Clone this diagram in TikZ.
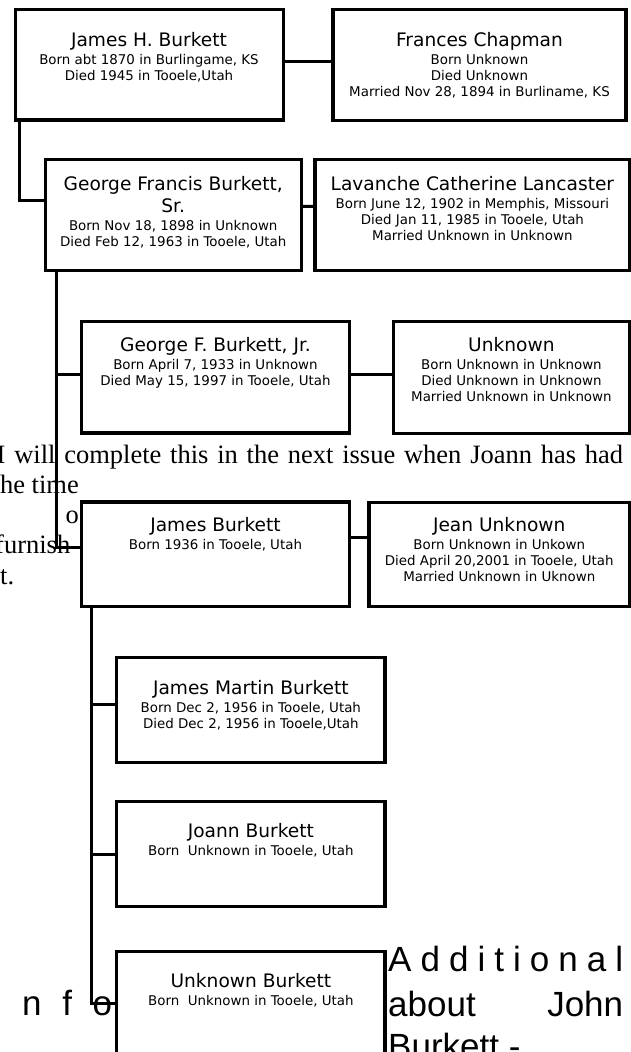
\documentclass[tikz,border=0pt]{standalone}
\usepackage{fontspec}
\setmainfont{Liberation Serif}
\newfontfamily\boxfont{DejaVu Sans}
\newfontfamily\arialf{Liberation Sans}
\newcommand\namef{\boxfont\fontsize{18.6}{16}\selectfont}
\newcommand\detf{\boxfont\fontsize{13.4}{16}\selectfont}
\newcommand\ptext[2]{\vtop{\baselineskip=16pt\lineskip=0pt\lineskiplimit=-30pt\halign{\hfil\detf##\hfil\cr\namef #1\cr\noalign{\vskip2pt}#2\crcr}}}
\begin{document}
\begin{tikzpicture}[x=1pt,y=-1pt,
  box/.style={draw=black,line width=3.1pt,fill=white,inner sep=0pt,outer sep=0pt},
  conn/.style={draw=black,line width=3pt},
  ptxt/.style={anchor=base,inner sep=0pt,outer sep=0pt},
  body/.style={anchor=base west,inner sep=0pt,font=\fontsize{26.5}{30}\selectfont},
  big/.style={anchor=base west,inner sep=0pt,font=\arialf\fontsize{35}{44}\selectfont}]
\useasboundingbox (0,0) rectangle (631,1052);
\clip (0,0) rectangle (631,1052);
% background text
\node[body] (p1) at (-3.5,463) {\makebox[626.5pt][s]{I will complete this in the next issue when Joann has had}};
\node[body] (p2) at (-7.5,493) {the time};
\node[body] (p3) at (65.5,523) {o};
\node[body] (p4) at (-5,553) {furnish};
\node[body] (p5) at (-7.4,584) {it.};
\node[big] (a1) at (388,971.7) {\makebox[235pt][s]{A\hfill d\hfill d\hfill i\hfill t\hfill i\hfill o\hfill n\hfill a\hfill l}};
\node[big] (a2) at (388,1016) {\makebox[235pt][s]{about\hfill John}};
\node[big] (a3) at (388,1058) {Burkett -};
\node[big] (nf) at (22,1015) {\makebox[90pt][s]{n\hfill f\hfill o}};
% boxes
\node[box,minimum width=268pt,minimum height=110.7pt] (b1) at (149.2,64.65) {};
\node[box,minimum width=293pt,minimum height=111.2pt] (b2) at (479.5,64.9) {};
\node[box,minimum width=256.5pt,minimum height=110.7pt] (b3) at (173.5,214.8) {};
\node[box,minimum width=314.5pt,minimum height=111.2pt] (b4) at (472.25,214.9) {};
\node[box,minimum width=267.6pt,minimum height=111.3pt] (b5) at (215.5,377.35) {};
\node[box,minimum width=236.2pt,minimum height=111.6pt] (b6) at (511.4,377.5) {};
\node[box,minimum width=267.6pt,minimum height=104.5pt] (b7) at (215.5,554.25) {};
\node[box,minimum width=260.5pt,minimum height=104pt] (b8) at (499.25,554.5) {};
\node[box,minimum width=268.3pt,minimum height=105pt] (b9) at (250.85,710) {};
\node[box,minimum width=268.3pt,minimum height=104.8pt] (b10) at (250.85,854.1) {};
\node[box,minimum width=268.3pt,minimum height=148.5pt] (b11) at (250.85,1025.75) {};
% box texts
\node[ptxt] (t1) at (149,46.7) {\ptext{James H. Burkett}{Born abt 1870 in Burlingame, KS\cr Died 1945 in Tooele,Utah}};
\node[ptxt] (t2) at (479.5,46) {\ptext{Frances Chapman}{Born Unknown\cr Died Unknown\cr Married Nov 28, 1894 in Burliname, KS}};
\node[ptxt] (t3) at (173.25,190.5) {\ptext{George Francis Burkett,\cr\noalign{\vskip6pt}\namef Sr.}{Born Nov 18, 1898 in Unknown\cr Died Feb 12, 1963 in Tooele, Utah}};
\node[ptxt] (t4) at (472.4,190) {\ptext{Lavanche Catherine Lancaster}{Born June 12, 1902 in Memphis, Missouri\cr Died Jan 11, 1985 in Tooele, Utah\cr Married Unknown in Unknown}};
\node[ptxt] (t5) at (215.5,351.7) {\ptext{George F. Burkett, Jr.}{Born April 7, 1933 in Unknown\cr Died May 15, 1997 in Tooele, Utah}};
\node[ptxt] (t6) at (511.4,351.7) {\ptext{Unknown}{Born Unknown in Unknown\cr Died Unknown in Unknown\cr Married Unknown in Unknown}};
\node[ptxt] (t7) at (215.5,531.7) {\ptext{James Burkett}{Born 1936 in Tooele, Utah}};
\node[ptxt] (t8) at (499.25,531.7) {\ptext{Jean Unknown}{Born Unknown in Unkown\cr Died April 20,2001 in Tooele, Utah\cr Married Unknown in Uknown}};
\node[ptxt] (t9) at (250.85,694) {\ptext{James Martin Burkett}{Born Dec 2, 1956 in Tooele, Utah\cr Died Dec 2, 1956 in Tooele,Utah}};
\node[ptxt] (t10) at (250.85,837.7) {\ptext{Joann Burkett}{Born\ \ Unknown in Tooele, Utah}};
\node[ptxt] (t11) at (250.85,987.7) {\ptext{Unknown Burkett}{Born\ \ Unknown in Tooele, Utah}};
% connectors
\draw[conn] ([yshift=2.95pt]b1.east) -- ([yshift=3.2pt]b2.west);
\draw[conn] ([yshift=8.35pt]b3.east) -- ([yshift=8.6pt]b4.west);
\draw[conn] ([yshift=3.35pt]b5.east) -- ([yshift=3.5pt]b6.west);
\draw[conn] ([yshift=17.25pt]b7.east) -- ([yshift=17.5pt]b8.west);
\draw[conn] (b1.south west) ++(4.5,0) |- ([yshift=14.8pt]b3.west);
\draw[conn] (b3.south west) ++(10.8,0) |- ([yshift=7.25pt]b7.west);
\draw[conn] ([yshift=3.35pt]b5.west) -- ++(-25.7,0);
\draw[conn] (b7.south west) ++(9.3,0) |- ([yshift=22.45pt]b11.west);
\draw[conn] ([yshift=5.7pt]b9.west) -- ++(-25.7,0);
\draw[conn] (b10.west) -- ++(-25.7,0);
\end{tikzpicture}
\end{document}
